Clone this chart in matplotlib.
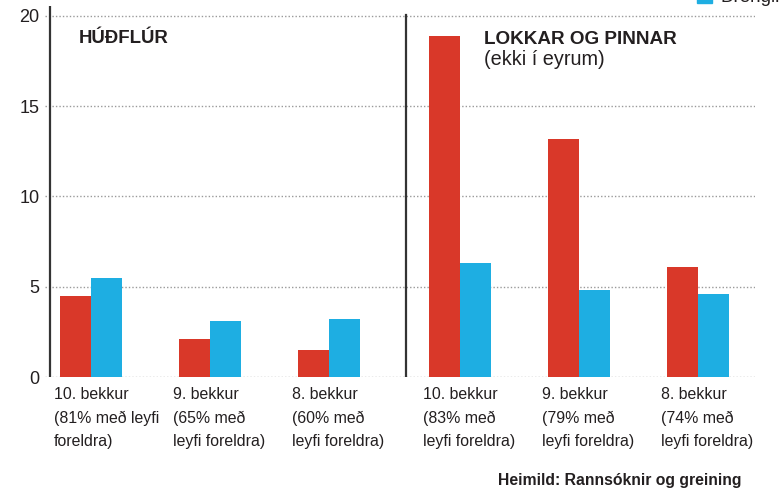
import matplotlib.pyplot as plt
from matplotlib.patches import Rectangle
from matplotlib.transforms import blended_transform_factory

# data: percentage of pupils, girls (red) vs boys (blue)
categories = [
    '10. bekkur\n(81% með leyfi\nforeldra)',
    '9. bekkur\n(65% með\nleyfi foreldra)',
    '8. bekkur\n(60% með\nleyfi foreldra)',
    '10. bekkur\n(83% með\nleyfi foreldra)',
    '9. bekkur\n(79% með\nleyfi foreldra)',
    '8. bekkur\n(74% með\nleyfi foreldra)',
]
stulkur = [4.5, 2.1, 1.5, 18.9, 13.2, 6.1]
drengir = [5.5, 3.1, 3.2, 6.3, 4.8, 4.6]
y_ticks = [0, 5, 10, 15, 20]

RED = '#d93829'
BLUE = '#1eaee2'
TXT = '#231f20'
REG = ['Liberation Sans', 'DejaVu Sans']

W, H = 780, 491
fig = plt.figure(figsize=(W / 100, H / 100), dpi=100)
ax = fig.add_axes([45 / W, (H - 377) / H, 710 / W, 371 / H])

# layout: one unit = distance between groups, right panel shifted a bit
pos = [i + (0.1 if i >= 3 else 0) for i in range(len(categories))]
bw = 0.26
ax.bar([p - bw / 2 for p in pos], stulkur, width=bw, color=RED, zorder=3)
ax.bar([p + bw / 2 for p in pos], drengir, width=bw, color=BLUE, zorder=3)

ax.set_xlim(-0.3866, 5.58)
ax.set_ylim(0, 20.55)
ax.set_yticks(y_ticks)
ax.set_xticks([])
ax.yaxis.grid(True, linestyle=(0, (1, 1.5)), color='#9a9a9a', lw=1)
ax.set_axisbelow(True)
for s in ax.spines.values():
    s.set_visible(False)
ax.tick_params(axis='y', length=0, pad=4, labelsize=13, labelcolor=TXT)
for lab in ax.get_yticklabels():
    lab.set_family(REG)

# axis line and panel separator
ax.axvline(-0.345, ymin=0, ymax=1, color='#333333', lw=1.6, zorder=4)
ax.axvline(2.647, ymin=0, ymax=0.975, color='#333333', lw=1.6, zorder=4)

# category labels under the bars
tr = blended_transform_factory(ax.transData, fig.transFigure)
for p, lab in zip(pos, categories):
    ax.text(p - bw - 0.05, 1 - 387 / H, lab, transform=tr, ha='left', va='top',
            fontsize=11.4, color=TXT, family=REG, linespacing=1.68)

# panel titles
fig.text(79 / W, 1 - 43 / H, 'HÚÐFLÚR', fontsize=13.4, fontweight='bold',
         color=TXT, family=REG, va='baseline')
fig.text(484 / W, 1 - 44 / H, 'LOKKAR OG PINNAR', fontsize=13.6, fontweight='bold',
         color=TXT, family=REG, va='baseline')
fig.text(484 / W, 1 - 65 / H, '(ekki í eyrum)', fontsize=14.3, color=TXT,
         family=REG, va='baseline')

# source
fig.text(742 / W, 1 - 485 / H, 'Heimild: Rannsóknir og greining', fontsize=11.3,
         fontweight='bold', color=TXT, family=REG, ha='right', va='baseline')

# legend, mostly cut off at the top edge (as in the original)
fig.patches.append(Rectangle((697 / W, 1 - 3 / H), 15 / W, 15 / H,
                             transform=fig.transFigure, color=BLUE))
fig.text(720 / W, 1 - 2 / H, 'Drengir', fontsize=13.5, color=TXT,
         family=REG, va='baseline')

fig.savefig('out.png', dpi=100)
